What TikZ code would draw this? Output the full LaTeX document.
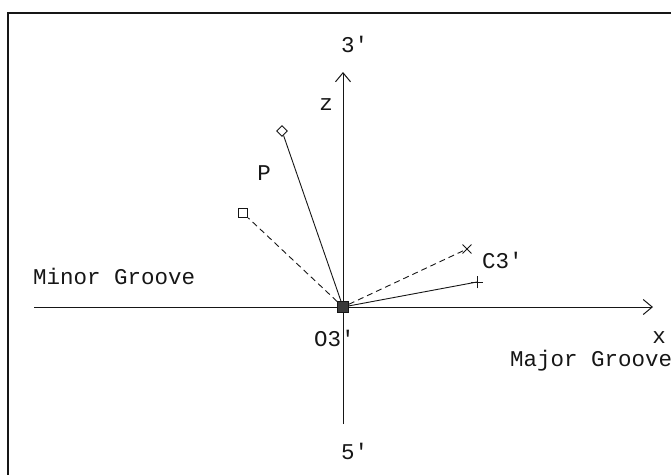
\documentclass[tikz,border=0pt]{standalone}
\usepackage{fontspec}
\newfontfamily\plotmono{Liberation Mono}
\usetikzlibrary{arrows.meta,shapes.geometric,shapes.misc}
\definecolor{ink}{HTML}{161616}
\definecolor{dot}{HTML}{3A3A3A}
\tikzset{
  lbl/.style={font=\plotmono\fontsize{22.5}{24}\selectfont,text=ink,inner sep=0pt},
  axis/.style={-{Straight Barb[length=9pt,width=15pt]},draw=ink,line width=1pt},
  ray/.style={draw=ink,line width=.9pt},
  rayd/.style={ray,dash pattern=on 6pt off 4pt},
  mk/.style={draw=ink,line width=.9pt,fill=white,inner sep=0pt},
  mkdia/.style={mk,diamond,minimum size=11pt},
  mksq/.style={mk,rectangle,minimum size=9.5pt},
  mkx/.style={mk,fill=none,cross out,minimum size=8pt},
  mkp/.style={mkx,rotate=45,minimum size=8pt},
}

\begin{document}
\begin{tikzpicture}[x=1pt,y=-1pt]
  \useasboundingbox (0,0) rectangle (671,475);
  \draw[ink,line width=1.4pt] (671,13) -- (8,13) -- (8,475);

  % axes
  \coordinate (xl) at (34,307);
  \coordinate (xr) at (653,307);
  \coordinate (zb) at (343,424);
  \coordinate (zt) at (343,72);
  \draw[axis] (xl) -- (xr);
  \draw[axis] (zb) -- (zt);
  \node[draw=ink,fill=dot,line width=.8pt,minimum size=11pt,inner sep=0pt] (o) at (343,307) {};

  % markers
  \node[mkdia] (pt) at (282,131) {};
  \node[mksq] (pb) at (243,213) {};
  \node[mkx] (ca) at (467,249) {};
  \node[mkp] (cb) at (477,282) {};
  \draw[ray] (o) -- (pt);
  \draw[rayd] (o) -- (pb);
  \draw[rayd] (o) -- (ca.center);
  \draw[ray] (o) -- (cb.center);

  % labels
  \node[lbl,anchor=base west] (l3) at (341,52) {3′};
  \node[lbl,anchor=base west] (l5) at (341,459) {5′};
  \node[lbl,anchor=base] (lz) at (326,110) {z};
  \node[lbl,anchor=base] (lp) at (264,180) {P};
  \node[lbl,anchor=base west] (lo) at (314,346) {O3′};
  \node[lbl,anchor=base west] (lc) at (482,268) {C3′};
  \node[lbl,anchor=base] (lx) at (659,343) {x};
  \node[lbl,anchor=base west] (lmaj) at (510,366) {Major Groove};
  \node[lbl,anchor=base west] (lmin) at (33,284) {Minor Groove};
\end{tikzpicture}
\end{document}
